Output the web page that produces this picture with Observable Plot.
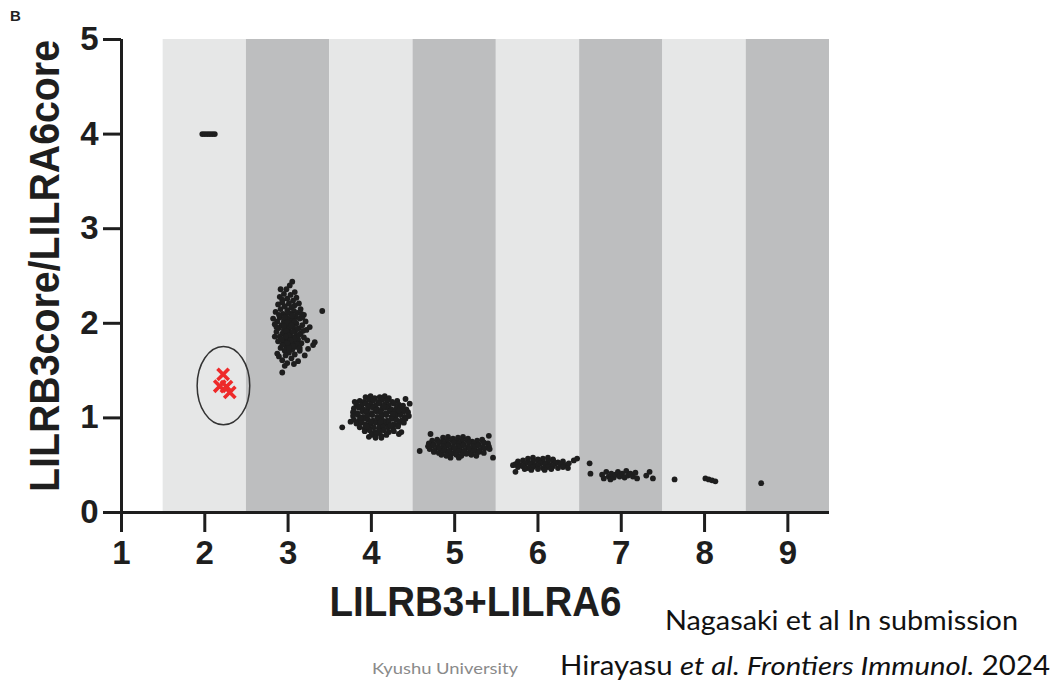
<!DOCTYPE html>
<html>
<head>
<meta charset="utf-8">
<script src="https://cdn.jsdelivr.net/npm/d3@7"></script>
<script src="https://cdn.jsdelivr.net/npm/@observablehq/plot@0.6"></script>
<style>
  html, body { margin: 0; padding: 0; background: #fff; }
</style>
</head>
<body>
<div id="chart"></div>
<script>
// ---- data ----
const xTicks = [1, 2, 3, 4, 5, 6, 7, 8, 9];
const yTicks = [0, 1, 2, 3, 4, 5];
const bandLeft = [1.5, 2.5, 3.5, 4.5, 5.5, 6.5, 7.5, 8.5];
const bandRight = [2.5, 3.5, 4.5, 5.5, 6.5, 7.5, 8.5, 9.5];
const bandShade = ["light", "dark", "light", "dark", "light", "dark", "light", "dark"];
const xLabel = "LILRB3+LILRA6";
const yLabel = "LILRB3core/LILRA6core";

const group2 = [[1.97,4.0],[2.00,4.0],[2.03,4.0],[2.06,4.0],[2.09,4.0],[2.12,4.0]];
const group3 = [[3.05,2.44],[3.02,2.40],[2.98,2.36],[2.91,2.36],[3.08,2.33],[2.95,2.31],[3.03,2.30],[2.90,2.28],[3.10,2.27],[2.99,2.26],[2.93,2.25],[3.06,2.24],[2.93,2.22],[3.13,2.21],[3.01,2.21],[2.88,2.20],[3.08,2.19],[2.96,2.18],[3.04,2.17],[3.41,2.13],[2.91,2.15],[3.15,2.15],[2.99,2.14],[3.07,2.13],[2.85,2.12],[3.11,2.11],[2.94,2.10],[3.03,2.10],[3.19,2.09],[2.97,2.08],[3.09,2.07],[2.82,2.05],[2.90,2.06],[3.00,2.05],[3.14,2.05],[3.05,2.03],[2.87,2.02],[2.95,2.02],[3.21,2.02],[3.02,2.00],[3.10,2.00],[2.84,1.99],[2.92,1.98],[3.17,1.98],[2.98,1.97],[3.06,1.96],[2.89,1.95],[3.13,1.95],[3.01,1.94],[2.95,1.93],[3.22,1.93],[3.08,1.92],[2.86,1.91],[3.03,1.90],[2.93,1.89],[3.15,1.89],[2.99,1.88],[3.10,1.87],[2.90,1.86],[3.05,1.85],[3.19,1.85],[2.96,1.84],[3.12,1.83],[3.00,1.82],[2.88,1.81],[3.07,1.80],[3.32,1.80],[2.94,1.79],[3.16,1.79],[3.30,1.77],[3.03,1.78],[2.98,1.76],[3.10,1.75],[2.91,1.74],[3.24,1.73],[3.05,1.72],[2.96,1.71],[3.14,1.71],[3.01,1.69],[2.87,1.68],[3.08,1.67],[2.97,1.66],[3.20,1.66],[2.89,1.65],[3.04,1.63],[2.93,1.61],[3.12,1.60],[2.99,1.58],[3.07,1.57],[2.96,1.55],[2.93,1.48],
  [3.00,2.12],[3.05,2.08],[2.96,2.06],[3.08,2.02],[2.99,2.01],[3.04,1.98],[2.95,1.97],[3.11,1.94],[2.98,1.92],[3.06,1.91],[3.01,1.87],[2.97,1.86],[3.08,1.84],[3.03,1.82],[2.92,1.83],[3.11,1.78],[2.99,1.79],[3.06,1.76],[3.01,1.74],[2.93,1.77],
  [3.17,2.06],[3.18,1.92],[3.13,1.88],[2.86,1.96],[2.89,2.09],[3.14,1.74],[3.23,1.82],[2.84,1.86],[3.16,2.10],[3.26,1.96]];
const group4 = [[3.93,1.22],[3.99,1.23],[4.04,1.21],[4.10,1.22],[4.16,1.23],[4.21,1.21],
  [3.86,1.18],[3.91,1.17],[3.97,1.19],[4.02,1.18],[4.08,1.17],[4.13,1.19],[4.19,1.18],[4.25,1.17],[4.31,1.18],
  [3.82,1.14],[3.88,1.13],[3.93,1.15],[3.99,1.14],[4.05,1.13],[4.10,1.15],[4.16,1.14],[4.21,1.13],[4.27,1.15],[4.33,1.14],[4.38,1.13],
  [3.79,1.10],[3.85,1.11],[3.90,1.09],[3.96,1.10],[4.02,1.11],[4.07,1.09],[4.13,1.10],[4.18,1.11],[4.24,1.09],[4.30,1.10],[4.36,1.11],[4.42,1.09],
  [3.78,1.06],[3.83,1.05],[3.89,1.07],[3.94,1.06],[4.00,1.05],[4.06,1.07],[4.11,1.06],[4.17,1.05],[4.22,1.07],[4.28,1.06],[4.34,1.05],[4.39,1.07],[4.44,1.06],
  [3.78,1.02],[3.84,1.03],[3.90,1.01],[3.95,1.02],[4.01,1.03],[4.07,1.01],[4.12,1.02],[4.18,1.03],[4.24,1.01],[4.29,1.02],[4.35,1.03],[4.40,1.01],[4.45,1.02],
  [3.79,0.98],[3.85,0.97],[3.91,0.99],[3.96,0.98],[4.02,0.97],[4.08,0.99],[4.13,0.98],[4.19,0.97],[4.25,0.99],[4.30,0.98],[4.36,0.97],[4.41,0.99],
  [3.82,0.94],[3.88,0.95],[3.93,0.93],[3.99,0.94],[4.05,0.95],[4.10,0.93],[4.16,0.94],[4.21,0.95],[4.27,0.93],[4.33,0.94],[4.39,0.95],
  [3.86,0.90],[3.92,0.89],[3.97,0.91],[4.03,0.90],[4.09,0.89],[4.14,0.91],[4.20,0.90],[4.26,0.89],[4.32,0.91],
  [3.92,0.86],[3.98,0.87],[4.04,0.85],[4.10,0.86],[4.15,0.87],[4.21,0.85],[4.27,0.86],
  [4.00,0.82],[4.06,0.83],[4.12,0.81],[4.18,0.82],
  [3.65,0.90],[3.75,0.96],[4.46,1.15],[4.41,1.20],[4.36,0.85],[4.05,0.79],[3.97,0.80],[4.12,0.79],[4.33,0.83],[3.80,1.17],
  [3.96,1.12],[4.05,1.08],[4.15,1.12],[4.26,1.04],[3.87,1.00],[3.99,0.96],[4.11,0.96],[4.23,0.92],[4.33,1.08],[3.94,0.91]];
const group5 = [[4.86,0.79],[4.92,0.80],[4.98,0.78],[5.04,0.79],[5.10,0.80],[5.16,0.78],
  [4.73,0.76],[4.79,0.77],[4.85,0.75],[4.91,0.76],[4.97,0.77],[5.03,0.75],[5.09,0.76],[5.15,0.77],[5.21,0.75],[5.27,0.76],[5.33,0.77],
  [4.69,0.73],[4.75,0.72],[4.81,0.74],[4.87,0.73],[4.93,0.72],[4.99,0.74],[5.05,0.73],[5.11,0.72],[5.17,0.74],[5.23,0.73],[5.29,0.72],[5.35,0.74],[5.40,0.73],
  [4.68,0.70],[4.74,0.71],[4.80,0.69],[4.86,0.70],[4.92,0.71],[4.98,0.69],[5.04,0.70],[5.10,0.71],[5.16,0.69],[5.22,0.70],[5.28,0.71],[5.34,0.69],[5.41,0.70],
  [4.70,0.67],[4.76,0.66],[4.82,0.68],[4.88,0.67],[4.94,0.66],[5.00,0.68],[5.06,0.67],[5.12,0.66],[5.18,0.68],[5.24,0.67],[5.30,0.66],[5.36,0.68],[5.42,0.67],
  [4.75,0.64],[4.81,0.63],[4.87,0.65],[4.93,0.64],[4.99,0.63],[5.05,0.65],[5.11,0.64],[5.17,0.63],[5.23,0.65],[5.29,0.64],[5.35,0.63],
  [4.84,0.61],[4.90,0.60],[4.96,0.62],[5.02,0.61],[5.08,0.60],[5.14,0.62],[5.20,0.61],[5.26,0.60],
  [4.58,0.65],[4.71,0.83],[5.46,0.58],[5.41,0.81],[4.95,0.58],[5.05,0.58]];
const group6 = [[5.88,0.57],[5.94,0.58],[6.00,0.56],[6.06,0.57],[6.12,0.58],[6.18,0.56],
  [5.76,0.54],[5.82,0.55],[5.88,0.53],[5.94,0.54],[6.00,0.55],[6.06,0.53],[6.12,0.54],[6.18,0.55],[6.24,0.53],[6.30,0.54],
  [5.73,0.51],[5.79,0.50],[5.85,0.52],[5.91,0.51],[5.97,0.50],[6.03,0.52],[6.09,0.51],[6.15,0.50],[6.21,0.52],[6.27,0.51],[6.33,0.50],[6.37,0.52],
  [5.76,0.48],[5.82,0.49],[5.88,0.47],[5.94,0.48],[6.00,0.49],[6.06,0.47],[6.12,0.48],[6.18,0.49],[6.24,0.47],[6.30,0.48],
  [5.84,0.46],[5.92,0.45],[6.00,0.46],[6.08,0.45],[6.16,0.46],
  [5.70,0.50],[5.73,0.43],[6.43,0.55],[6.47,0.57],[6.36,0.47]];
const group7 = [[6.62,0.52],[6.63,0.41],[6.77,0.40],[6.79,0.36],[6.82,0.43],[6.85,0.38],[6.87,0.35],[6.88,0.41],[6.91,0.37],[6.93,0.40],[6.96,0.43],[6.98,0.38],[7.01,0.41],[7.04,0.37],[7.06,0.44],[7.08,0.39],[7.11,0.41],[7.14,0.38],[7.17,0.42],[7.19,0.36],[7.30,0.39],[7.34,0.43],[7.38,0.36]];
const group8 = [[7.64,0.35],[8.01,0.36],[8.05,0.35],[8.09,0.34],[8.13,0.33]];
const group9 = [[8.68,0.31]];
const highlighted = [[2.22,1.46],[2.18,1.335],[2.26,1.33],[2.30,1.27]];

// ---- tables built from the arrays ----
const bands = bandLeft.map((x1, i) => ({x1, x2: bandRight[i], shade: bandShade[i]}));
const toObj = ([x, y]) => ({x, y});
const points = [...group2, ...group3, ...group4, ...group5, ...group6, ...group7, ...group8, ...group9].map(toObj);
const redPoints = highlighted.map(toObj);

const ink = "#1e1e1e";
const plot = Plot.plot({
  width: 1062,
  height: 684,
  marginLeft: 121,
  marginRight: 233,
  marginTop: 39,
  marginBottom: 172,
  x: {domain: [1, 9.5]},
  y: {domain: [0, 5]},
  color: {domain: ["light", "dark"], range: ["#e6e7e7", "#bdbebf"]},
  style: {fontFamily: "'Liberation Sans', Arial, Helvetica, sans-serif", background: "#fff", color: ink},
  marks: [
    Plot.rect(bands, {x1: "x1", x2: "x2", y1: 0, y2: 5, fill: "shade"}),
    Plot.dot(points, {x: "x", y: "y", r: 2.9, fill: ink, stroke: "none"}),
    Plot.dot(redPoints, {x: "x", y: "y", symbol: "times", r: 5.2, stroke: "#ee2a2a", strokeWidth: 3.6}),
    Plot.ruleX([1], {y1: 0, y2: 5, stroke: ink, strokeWidth: 3}),
    Plot.ruleY([0], {x1: 1, x2: 9.5, stroke: ink, strokeWidth: 3}),
    Plot.axisX(xTicks, {tickSize: 20, tickPadding: 8, strokeWidth: 3, fontSize: 33, fontWeight: "bold", tickFormat: "d", label: null}),
    Plot.axisY(yTicks, {tickSize: 18, tickPadding: 5, strokeWidth: 3, fontSize: 33, fontWeight: "bold", tickFormat: "d", label: null}),
    Plot.text([xLabel], {frameAnchor: "bottom", textAnchor: "middle", dy: 103, fontSize: 43, fontWeight: "bold"}),
    Plot.text([yLabel], {frameAnchor: "left", textAnchor: "middle", rotate: -90, dx: -76, dy: -10, fontSize: 43, fontWeight: "bold"})
  ]
});

document.getElementById("chart").append(plot);

const svg = d3.select(plot);
svg.selectAll("text").filter(function () { return this.textContent === xLabel; })
  .attr("textLength", 292).attr("lengthAdjust", "spacingAndGlyphs");
svg.selectAll("text").filter(function () { return this.textContent === yLabel; })
  .attr("textLength", 452).attr("lengthAdjust", "spacingAndGlyphs");

// ellipse annotation around the highlighted points, placed through the plot scales
const xs = plot.scale("x"), ys = plot.scale("y");
const ellCx = 2.23, ellCy = 1.335, ellRx = 0.316, ellRy = 0.414;
svg.append("ellipse")
  .attr("cx", xs.apply(ellCx))
  .attr("cy", ys.apply(ellCy))
  .attr("rx", xs.apply(ellCx + ellRx) - xs.apply(ellCx))
  .attr("ry", ys.apply(ellCy) - ys.apply(ellCy + ellRy))
  .attr("fill", "none").attr("stroke", "#333").attr("stroke-width", 1.5);

// panel letter and footnotes
svg.append("text").attr("x", 10).attr("y", 21).attr("text-anchor", "start")
  .attr("font-family", "'Liberation Sans', Arial, sans-serif").attr("font-weight", "bold")
  .attr("font-size", 15).attr("fill", "#222").text("B");

svg.append("text").attr("x", 665).attr("y", 630).attr("text-anchor", "start")
  .attr("font-family", "Lato, 'Open Sans', sans-serif").attr("font-size", 26).attr("fill", "#111")
  .attr("textLength", 353).attr("lengthAdjust", "spacingAndGlyphs")
  .text("Nagasaki et al In submission");

const cite = svg.append("text").attr("x", 560).attr("y", 675).attr("text-anchor", "start")
  .attr("font-family", "Lato, 'Open Sans', sans-serif").attr("font-size", 26).attr("fill", "#111")
  .attr("textLength", 490).attr("lengthAdjust", "spacingAndGlyphs");
cite.append("tspan").text("Hirayasu ");
cite.append("tspan").attr("font-style", "italic").text("et al. Frontiers Immunol.");
cite.append("tspan").text(" 2024");

svg.append("text").attr("x", 372).attr("y", 674).attr("text-anchor", "start")
  .attr("font-family", "Lato, 'Open Sans', sans-serif").attr("font-size", 15).attr("fill", "#8a8a8a")
  .attr("textLength", 146).attr("lengthAdjust", "spacingAndGlyphs")
  .text("Kyushu University");
</script>
</body>
</html>
